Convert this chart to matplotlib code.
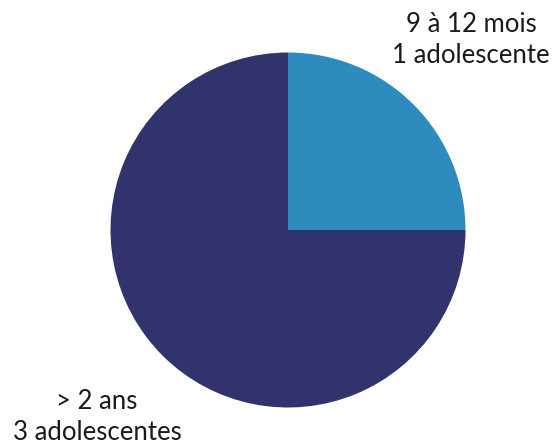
import matplotlib
matplotlib.use('Agg')
from matplotlib import pyplot as plt

# age groups of the adolescents
labels = ['9 à 12 mois\n1 adolescente', '> 2 ans\n3 adolescentes']
counts = [1, 3]
colors = ['#2D8BBD', '#31346C']

plt.rcParams['font.family'] = ['Lato', 'DejaVu Sans']

fig = plt.figure(figsize=(5.55, 4.45), dpi=100)
ax = fig.add_axes([0, 0, 1, 1])
ax.pie(counts, colors=colors, startangle=90, counterclock=False,
       center=(288, 445 - 230), radius=177.5)
ax.set_xlim(0, 555)
ax.set_ylim(0, 445)
ax.set_aspect('equal')
ax.axis('off')

ax.text(471, 445 - 40, labels[0], ha='center', va='center',
        fontsize=18.5, color='#1a1a1a', linespacing=1.3)
ax.text(97, 445 - 417, labels[1], ha='center', va='center',
        fontsize=18.5, color='#1a1a1a', linespacing=1.3)

fig.savefig('out.png', dpi=100)
